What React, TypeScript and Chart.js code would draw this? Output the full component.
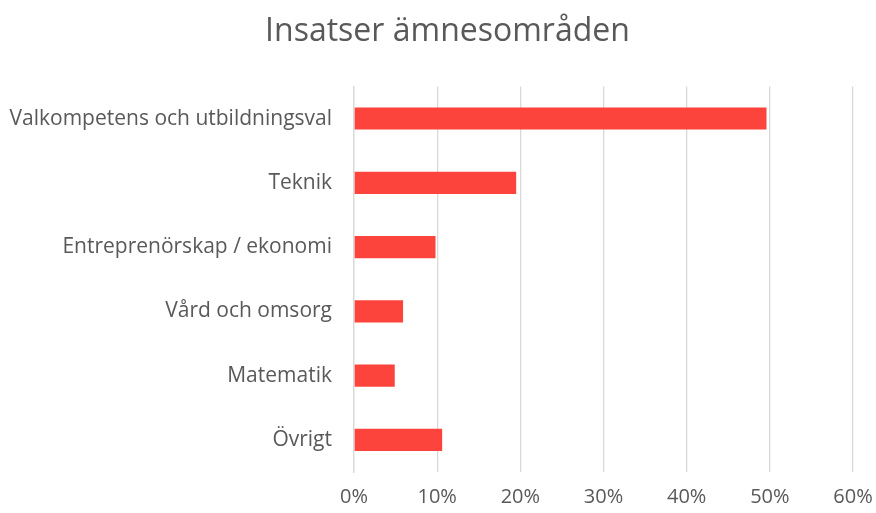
import React, { useEffect, useRef } from "react";
import { Chart, registerables } from "chart.js";

Chart.register(...registerables);

const categories = [
  "Valkompetens och utbildningsval",
  "Teknik",
  "Entreprenörskap / ekonomi",
  "Vård och omsorg",
  "Matematik",
  "Övrigt",
];
const values = [49.6, 19.5, 9.8, 5.9, 4.9, 10.6];
const xTicks = [0, 10, 20, 30, 40, 50, 60];
const title = "Insatser ämnesområden";

const titleShift = {
  id: "titleShift",
  afterLayout(chart: any) {
    if (chart.titleBlock) chart.titleBlock.left = 42;
  },
};

export default function App() {
  const ref = useRef<HTMLCanvasElement | null>(null);
  useEffect(() => {
    document.body.style.margin = "0";
    const ctx = ref.current!;
    const chart = new Chart(ctx, {
      type: "bar",
      data: {
        labels: categories,
        datasets: [
          {
            data: values,
            backgroundColor: "#FC443D",
            borderWidth: 0,
            categoryPercentage: 1,
            barPercentage: 0.345,
          },
        ],
      },
      plugins: [titleShift],
      options: {
        indexAxis: "y",
        animation: false,
        responsive: false,
        maintainAspectRatio: false,
        layout: { padding: { left: 0, right: 23, top: 0, bottom: 0 } },
        plugins: {
          legend: { display: false },
          tooltip: { enabled: false },
          title: {
            display: true,
            text: title,
            color: "#595959",
            font: { family: "'Open Sans'", size: 32, weight: "normal", lineHeight: 1.2 },
            padding: { top: 13, bottom: 35 },
          },
        },
        scales: {
          x: {
            min: 0,
            max: 60,
            afterBuildTicks: (scale: any) => {
              scale.ticks = xTicks.map((v) => ({ value: v }));
            },
            afterFit: (scale: any) => {
              scale.height = 41;
            },
            grid: {
              color: "#d9d9d9",
              lineWidth: 1.3,
              drawTicks: true,
              tickLength: 13,
              tickColor: "rgba(0,0,0,0)",
            },
            border: { display: false },
            ticks: {
              padding: 0,
              color: "#595959",
              font: { family: "'Open Sans'", size: 20 },
              callback: (v: any) => v + "%",
            },
          },
          y: {
            afterFit: (scale: any) => {
              scale.width = 354;
            },
            grid: { display: false, drawTicks: false },
            border: { display: true, color: "#d9d9d9", width: 1.3 },
            ticks: {
              padding: 22,
              color: "#595959",
              font: { family: "'Open Sans'", size: 21 },
            },
          },
        },
      },
    } as any);
    return () => chart.destroy();
  }, []);
  return (
    <div style={{ width: 876, height: 513 }}>
      <canvas ref={ref} width={876} height={513} style={{ display: "block" }} />
    </div>
  );
}
